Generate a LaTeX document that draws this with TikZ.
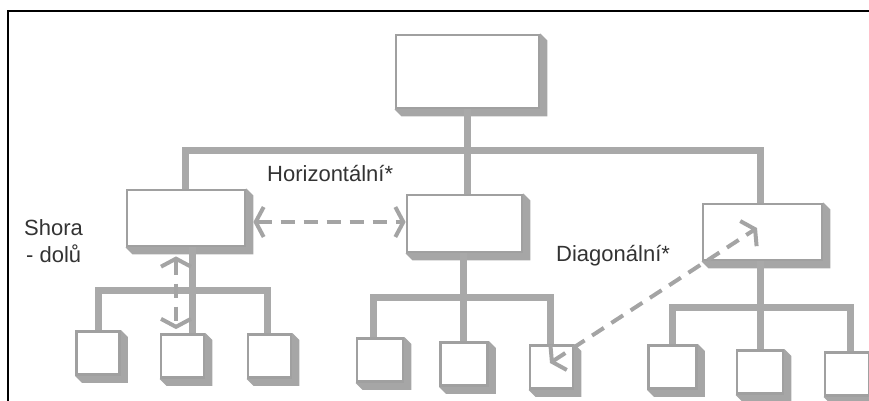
\documentclass[tikz,border=0pt]{standalone}
\usepackage{fontspec}
\setmainfont{Liberation Sans}
\usetikzlibrary{arrows.meta,backgrounds,calc}
\definecolor{ln}{HTML}{A9A9A9}
\definecolor{bx}{HTML}{A0A0A0}
\definecolor{ext}{HTML}{A6A6A6}
\definecolor{dsh}{HTML}{A4A4A4}
\definecolor{txt}{HTML}{333333}
\newcommand\extrude[1]{\fill[ext] (#1.north east) -- ++(7,7) -- ($(#1.south east)+(7,7)$) -- ($(#1.south west)+(7,7)$) -- (#1.south west) -- cycle;}
\begin{document}
\begin{tikzpicture}[x=1pt,y=-1pt,
  box/.style={draw=bx, line width=2.8pt, fill=white, inner sep=0pt},
  leaf/.style={box, minimum width=43pt, minimum height=43pt},
  conn/.style={draw=ln, line width=7pt, line join=miter},
  dasharrow/.style={draw=dsh, line width=4pt, dash pattern=on 14pt off 9pt,
    {Straight Barb[length=8pt,width=30pt]}-{Straight Barb[length=8pt,width=30pt]}},
  lbl/.style={text=txt, font=\fontsize{22}{27}\selectfont, inner sep=0pt}]
\useasboundingbox (0,0) rectangle (869,400);
\clip (0,0) rectangle (869,400);
\draw[black, line width=2pt] (8,401) -- (8,11) -- (870,11);
% boxes
\node[box, minimum width=143pt, minimum height=73pt] (top) at (467.5,71.5) {};
\node[box, minimum width=118pt, minimum height=56pt] (L1) at (186,218) {};
\node[box, minimum width=115pt, minimum height=57pt] (M1) at (464.5,223.5) {};
\node[box, minimum width=119pt, minimum height=56pt] (R1) at (762.5,232) {};
\node[leaf] (a1) at (98,353) {};
\node[leaf] (a2) at (182.5,356) {};
\node[leaf] (a3) at (269.5,356) {};
\node[leaf, minimum width=46pt] (b1) at (380,360) {};
\node[leaf, minimum width=47pt] (b2) at (464,364) {};
\node[leaf] (b3) at (551.5,367) {};
\node[leaf, minimum width=48pt] (d1) at (672.5,367) {};
\node[leaf, minimum width=46pt] (d2) at (760,372) {};
\node[leaf, minimum width=44pt] (d3) at (847,374) {};
% junction coordinates
\coordinate (busA) at (185,150);
\coordinate (busB) at (760,150);
\coordinate (la) at (98,290);
\coordinate (ls) at (192,290);
\coordinate (lb) at (267,290);
\coordinate (ca) at (373,297);
\coordinate (cs) at (463,297);
\coordinate (cb) at (550,297);
\coordinate (ra) at (672,307);
\coordinate (rs) at (760,307);
\coordinate (rb) at (850,307);
\begin{scope}[on background layer]
  \foreach \n in {top,L1,M1,R1,a1,a2,a3,b1,b2,b3,d1,d2,d3} {\extrude{\n}}
  \draw[conn] (busA |- L1.north) -- (busA) -- (busB) -- (busB |- R1.north);
  \draw[conn] (top.south) -- (top.south |- M1.north);
  \draw[conn] (la |- a1.north) -- (la) -- (lb) -- (lb |- a3.north);
  \draw[conn] (ls |- L1.south) -- (ls |- a2.north);
  \draw[conn] (ca |- b1.north) -- (ca) -- (cb) -- (cb |- b3.north);
  \draw[conn] (cs |- M1.south) -- (cs |- b2.north);
  \draw[conn] (ra |- d1.north) -- (ra) -- (rb) -- (rb |- d3.north);
  \draw[conn] (rs |- R1.south) -- (rs |- d2.north);
\end{scope}
% dashed relations
\draw[dasharrow] ([xshift=7pt,yshift=-4pt]L1.east) -- ([yshift=1.5pt]M1.west);
\draw[dasharrow] ([xshift=-10pt,yshift=-9pt]L1.south) -- ([xshift=-6.5pt,yshift=4pt]a2.north);
\draw[dasharrow] ([xshift=-1.5pt,yshift=4pt]b3.center) -- ([xshift=-5.5pt,yshift=4pt]R1.center);
% labels
\node[lbl, anchor=base west] (hl) at (267,181) {Horizontální*};
\node[lbl, anchor=base west] (dl) at (556,261) {Diagonální*};
\node[lbl, anchor=base west, align=left] (sl) at (24,262) {Shora\\\hspace*{2pt}- dolů};
\end{tikzpicture}
\end{document}
